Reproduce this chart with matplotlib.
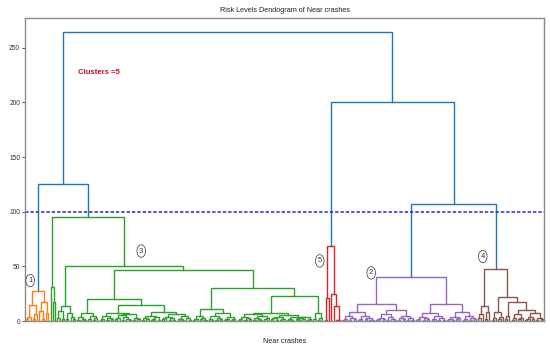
import matplotlib
matplotlib.use("Agg")
from matplotlib import pyplot as plt
from matplotlib import transforms

plt.rcParams['font.family'] = ['Liberation Sans Narrow', 'Liberation Sans', 'DejaVu Sans']

# Dendrogram written as nested merges: "x" is one near-crash record,
# "(left,right)h" is a merge at height h, capital letters are cluster subtrees.

# cluster 1 (orange)
ORANGE_TREE = "((((x,x)2,x)4,((x,x)1.5,x)6)14.5,((x,(x,x)2)9,(x,x)7)17.5)27"

# cluster 3 (green), built from its branches
G_SPIKE = "(x,(x,x)17)31"
G_A = "(((x,x)3,(x,x)2)9,((x,x)1.5,(x,(x,x)2)4)7)14"
G_C1 = "(((x,x)1,(x,(x,x)1)2)4,((x,x)2,((x,x)1,x)3)5)7"
G_C2L = ("((((x,x)1,x)2,((x,x)1,(x,x)2)3)5,"
         "((((x,x)1.5,x)2.5,((x,x)1,(x,(x,x)1)2)4)5.5,((x,x)1,(x,x)2)3)6)7")
G_C2R = ("((((x,x)1,(x,x)1.5)3,(((x,x)1,x)2,(x,x)1)3.5)5,"
         "((((x,x)2,x)3,((x,x)1,(x,x)1)2.5)4,(((x,x)1.5,(x,x)1)2,(x,(x,x)1)2.5)4.5)6.5)8.5")
G_D1 = ("((((x,x)1,x)2,((x,x)1.5,(x,x)1)3)5,"
        "(((x,(x,x)1)2,((x,x)1,(x,x)2)3)4.5,(((x,x)1,x)2,((x,x)1,x)1.5)3.5)7)11")
G_D2L = ("(((((x,x)1,x)2,((x,x)1,(x,x)1.5)2.5)4,(((x,x)1,(x,(x,x)1)2)3,((x,x)2,x)3)4.5)6,"
         "((((x,x)1.5,(x,x)1)2.5,((x,x)1,x)2)3.5,(((x,x)1,(x,x)1)2,"
         "(((x,(x,x)1)1.5,(x,x)2)3,((x,x)1,x)2)3.5)4)5.5)7.3")
G_D2R = "((x,x)2,((x,x)1,x)3)7.6"
GREEN_TREE = (f"({G_SPIKE},({G_A},(({G_C1},({G_C2L},{G_C2R})14.6)20,"
              f"({G_D1},({G_D2L},{G_D2R})22.6)30)46.5)50)95")

# cluster 5 (red)
RED_TREE = "(((x,x)1,x)21,(x,(x,((x,x)1,x)1.2)14)25)69"

# cluster 2 (purple)
P_LL = "((((x,x)1,x)2,((x,x)1,(x,x)1.5)3)4.5,(((x,x)1,x)2,((x,x)1.5,((x,x)1,x)1.2)2.5)5)8"
P_LR = "(((((x,x)1,x)2,(x,x)1.5)3,((x,x)1,(x,(x,x)1)2)3.5)6,(((x,x)1,(x,x)2)3,((x,x)1,(x,x)1)2.5)4.5)10"
P_RL = "((((x,x)1,x)2,((x,x)1,(x,x)2)3)4,(((x,x)1.5,x)2,((x,x)1,(x,x)1)2.5)4.5)7"
P_RR = "((((x,x)1,(x,x)1)2,((x,x)1.5,x)2.5)4,(((x,x)1,x)2,((x,x)1,(x,x)1.5)3)5)8"
PURPLE_TREE = f"(({P_LL},{P_LR})15.5,({P_RL},{P_RR})16)40"

# cluster 4 (brown)
B_L = "(((x,x)3,x)6,((x,x)2,x)8)13.7"
B_R1 = "(((x,x)1,x)3,((x,x)2,x)4)8"
B_R2A = "((x,x)2,x)5"
B_R2B = "((((x,x)1,x)2.5,((x,x)1.5,x)3)6,((((x,x)1,x)2,(x,x)1.5)4,((x,x)1,(x,x)2)3)7.5)10"
BROWN_TREE = f"({B_L},({B_R1},({B_R2A},{B_R2B})17.4)21.7)47.6"

# merges above the cut line
TOP_TREE = "((A,B)125,(E,(C,D)107)200)264"
CUT_HEIGHT = 100

CLUSTERS = {"A": (ORANGE_TREE, "C1"), "B": (GREEN_TREE, "C2"), "E": (RED_TREE, "C3"),
            "C": (PURPLE_TREE, "C4"), "D": (BROWN_TREE, "C5")}
LABELS = ["1", "3", "5", "2", "4"]
LABEL_X = [0.010, 0.224, 0.568, 0.667, 0.882]
LABEL_Y = [37, 64, 55, 44, 59]


def parse(s, color, subtrees):
    s = s.replace(" ", "")
    pos = 0

    def node():
        nonlocal pos
        c = s[pos]
        if c == "x":
            pos += 1
            return {"kids": None, "color": color}
        if c.isupper():
            pos += 1
            return subtrees[c]
        pos += 1
        left = node()
        pos += 1
        right = node()
        pos += 1
        start = pos
        while pos < len(s) and (s[pos].isdigit() or s[pos] == "."):
            pos += 1
        return {"kids": (left, right), "h": float(s[start:pos]), "color": color}

    return node()


def layout(n, leaves):
    if n["kids"] is None:
        n["x"] = 5 + 10 * len(leaves)
        n["h"] = 0.0
        leaves.append(n["x"])
        return
    for k in n["kids"]:
        layout(k, leaves)
    n["x"] = (n["kids"][0]["x"] + n["kids"][1]["x"]) / 2


def draw(ax, n):
    if n["kids"] is None:
        return
    l, r = n["kids"]
    ax.plot([l["x"], l["x"], r["x"], r["x"]], [l["h"], n["h"], n["h"], r["h"]],
            color=n["color"], lw=1.0, solid_joinstyle="miter")
    draw(ax, l)
    draw(ax, r)


subs = {k: parse(t, c, {}) for k, (t, c) in CLUSTERS.items()}
root = parse(TOP_TREE, "C0", subs)
leaves = []
layout(root, leaves)

fig = plt.figure(figsize=(5.5, 3.52), dpi=100)
ax = fig.add_axes([25 / 550, 1 - 321 / 352, 519 / 550, 303 / 352])
draw(ax, root)

ax.axhline(CUT_HEIGHT, color="#2a2ac0", lw=1.1, linestyle=(0, (2.2, 1.3)))

ax.set_xlim(0, 10 * len(leaves))
ax.set_ylim(0, root["h"] * 1.05)
ax.set_xticks([])
ax.set_yticks([0, 50, 100, 150, 200, 250])
ax.tick_params(axis="y", labelsize=4.8, length=2, width=0.6, pad=1.5, colors="#333333")
for sp in ax.spines.values():
    sp.set_color("#8c8c8c")
    sp.set_linewidth(1.0)

ax.set_title("Risk Levels Dendogram of Near crashes", fontsize=5.2, pad=4, color="#222222")
ax.set_xlabel("Near crashes", fontsize=5.2, labelpad=12, color="#222222")

tr = transforms.blended_transform_factory(ax.transAxes, ax.transData)
ax.text(0.102, 227, "Clusters =5", transform=tr,
        color="#cc1020", fontsize=5.6, fontweight="bold", va="center", ha="left")

for lab, lx, ly in zip(LABELS, LABEL_X, LABEL_Y):
    ax.text(lx, ly, lab, transform=tr, fontsize=5.5, color="#333333", ha="center", va="center",
            bbox=dict(boxstyle="ellipse,pad=0.12", fc="white", ec="#333333", lw=0.5))

fig.savefig("out.png", dpi=100)
